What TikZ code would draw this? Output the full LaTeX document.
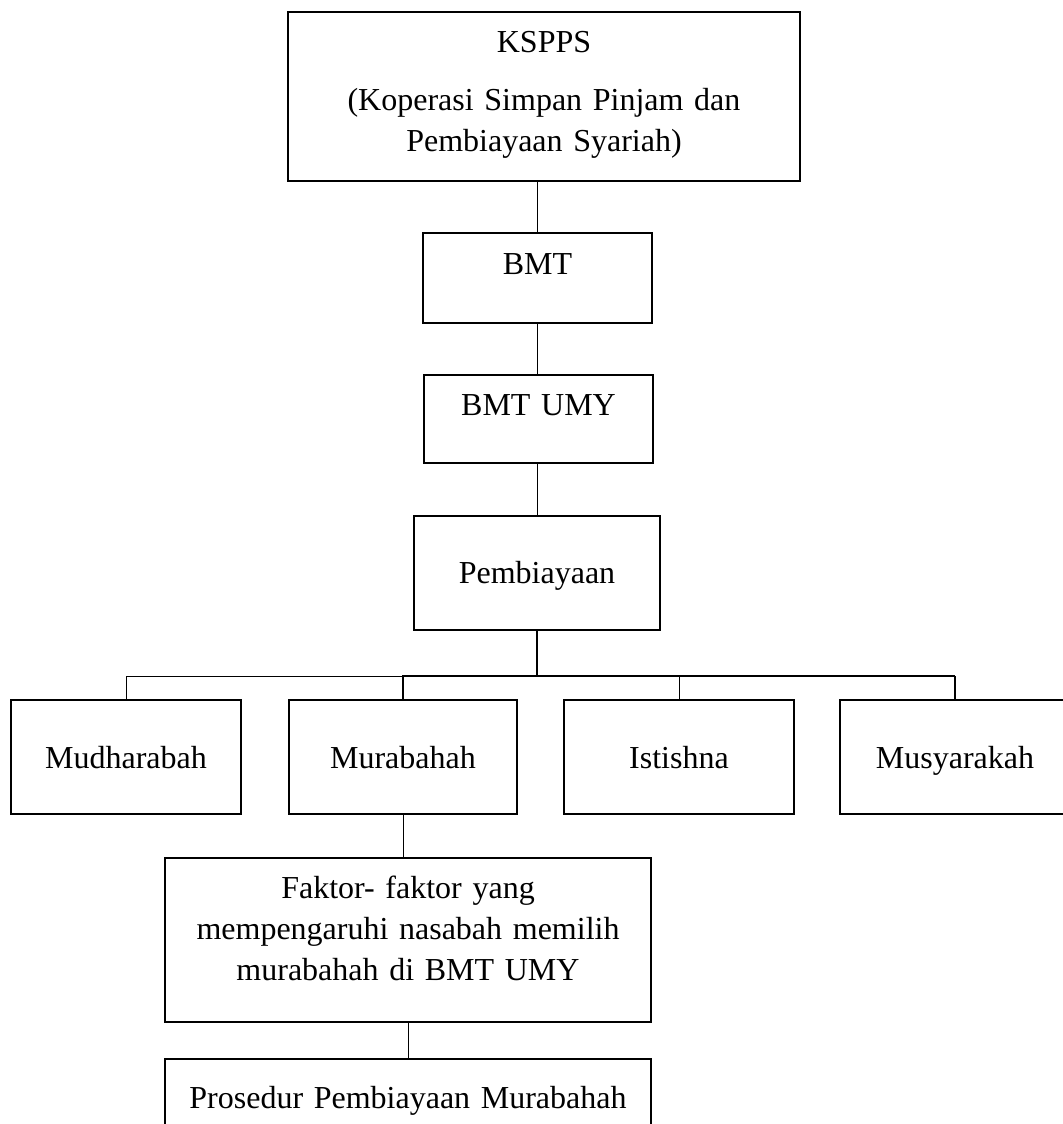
\documentclass[tikz,border=0pt]{standalone}
\usepackage{fontspec}
\setmainfont{Liberation Serif}
\usetikzlibrary{backgrounds}
\pgfdeclarelayer{edgelayer}
\pgfdeclarelayer{nodelayer}
\pgfsetlayers{background,edgelayer,nodelayer,main}
\tikzstyle{box}=[draw=black,line width=1.1pt,inner sep=0mm,align=center,font=\fontsize{16}{20.5}\selectfont]
\tikzstyle{wide box}=[box,text width=115pt,text height=34pt,text depth=23pt]
\tikzstyle{link}=[line width=0.5pt]
\tikzstyle{thick link}=[line width=1.3pt]
\begin{document}
\begin{tikzpicture}[x=0.5pt,y=-0.5pt]
	\useasboundingbox (0,0) rectangle (1062,1124);
	\begin{pgfonlayer}{nodelayer}
		\node [style=box, text width=256pt, text height=20pt, text depth=64.5pt] (kspps) at (544, 96.5) {KSPPS\\[8.5pt](Koperasi Simpan Pinjam dan\\Pembiayaan Syariah)};
		\node [style=box, text width=114.5pt, text height=20.5pt, text depth=24.5pt] (bmt) at (537.5, 278) {BMT};
		\node [style=box, text width=114.5pt, text height=20pt, text depth=24pt] (bmtumy) at (538.5, 419) {BMT UMY};
		\node [style=box, text width=123pt, text height=33.5pt, text depth=23.5pt] (pemb) at (537, 573) {Pembiayaan};
		\coordinate (bus) at (537, 676);
		\node [style=wide box] (mudh) at (126, 757) {Mudharabah};
		\node [style=wide box, text width=114pt] (murab) at (403, 757) {Murabahah};
		\node [style=wide box] (istis) at (679, 757) {Istishna};
		\node [style=wide box] (musy) at (955, 757) {Musyarakah};
		\node [style=box, text width=243pt, text height=20pt, text depth=62pt] (faktor) at (408, 940) {Faktor- faktor yang\\mempengaruhi nasabah memilih\\murabahah di BMT UMY};
		\node [style=box, text width=243pt, text height=24.5pt, text depth=21pt] (pros) at (408, 1104.5) {Prosedur Pembiayaan Murabahah};
	\end{pgfonlayer}
	\begin{pgfonlayer}{edgelayer}
		\draw [style=link] (kspps.south -| bmt.north) to (bmt.north);
		\draw [style=link] (bmt.south) to (bmt.south |- bmtumy.north);
		\draw [style=link] (bmtumy.south -| pemb.north) to (pemb.north);
		\draw [style=thick link] (pemb.south) to (pemb.south |- bus);
		\draw [style=link] (mudh.north) -- (mudh.north |- bus) -- (murab.north |- bus);
		\draw [style=thick link] (murab.north) -- (murab.north |- bus) -- (musy.north |- bus);
		\draw [style=link] (istis.north) to (istis.north |- bus);
		\draw [line width=0.9pt] (musy.north) to (musy.north |- bus);
		\draw [style=link] (murab.south) to (murab.south |- faktor.north);
		\draw [style=link] (faktor.south) to (pros.north);
	\end{pgfonlayer}
\end{tikzpicture}
\end{document}
